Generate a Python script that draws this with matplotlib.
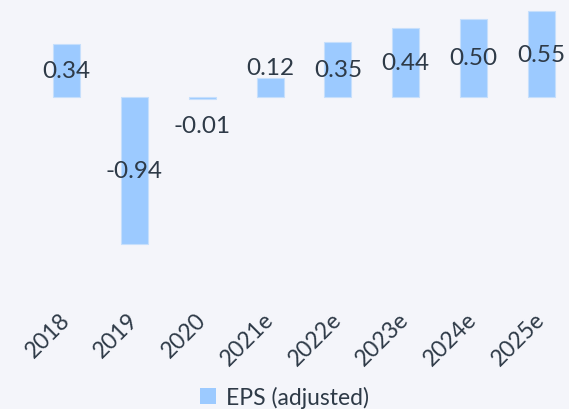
import matplotlib
matplotlib.use("Agg")
import matplotlib.pyplot as plt
from matplotlib.patches import Patch

categories = ["2018", "2019", "2020", "2021e", "2022e", "2023e", "2024e", "2025e"]
eps = [0.34, -0.94, -0.01, 0.12, 0.35, 0.44, 0.50, 0.55]
labels = ["0.34", "-0.94", "-0.01", "0.12", "0.35", "0.44", "0.50", "0.55"]
series_name = "EPS (adjusted)"

bg = "#f4f5fa"
bar_color = "#9ccaff"
text_color = "#2e3a47"

plt.rcParams['font.family'] = ['Lato', 'DejaVu Sans']

fig = plt.figure(figsize=(5.69, 4.10), dpi=100, facecolor=bg)
ax = fig.add_axes([0, 110/410, 1, 300/410])
ax.set_facecolor(bg)

x = list(range(len(categories)))
ax.bar(x, eps, width=0.4, color=bar_color, edgecolor="#c6dffc", linewidth=0.8)

ax.set_xlim(-0.984, 7.41)
ax.set_ylim(-1.295, 0.628)

for xi, v, lab in zip(x, eps, labels):
    if abs(v) >= 0.2:
        ax.text(xi, v / 2, lab, ha="center", va="center", fontsize=17.5, color=text_color)
    elif v >= 0:
        ax.annotate(lab, (xi, v), xytext=(0, 0), textcoords="offset points",
                    ha="center", va="bottom", fontsize=17.5, color=text_color)
    else:
        ax.annotate(lab, (xi, v), xytext=(0, -12), textcoords="offset points",
                    ha="center", va="top", fontsize=17.5, color=text_color)

ax.set_xticks(x)
ax.set_xticklabels(categories, rotation=45, ha="right", va="center",
                   rotation_mode="anchor", fontsize=16.5, color=text_color)
ax.tick_params(axis="x", length=0, pad=12)
ax.set_yticks([])
for s in ax.spines.values():
    s.set_visible(False)

handle = Patch(facecolor=bar_color, edgecolor="none")
fig.legend([handle], [series_name], loc="lower center", bbox_to_anchor=(0.5, -0.047),
           frameon=False, fontsize=16.5, handlelength=0.7, handleheight=0.7,
           handletextpad=0.4, labelcolor=text_color)

fig.savefig("out.png", dpi=100, facecolor=bg)
